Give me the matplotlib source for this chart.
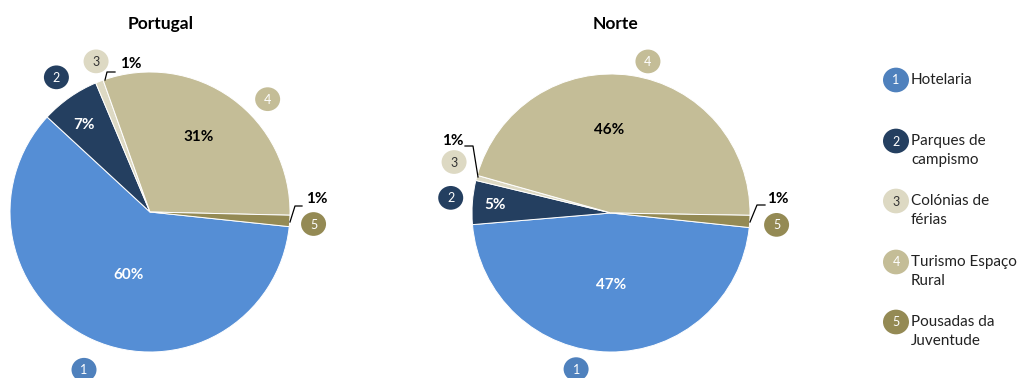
import matplotlib.pyplot as plt
from matplotlib.patches import Ellipse
import numpy as np

plt.rcParams['font.family'] = ['Lato', 'DejaVu Sans']

# Dados (% de camas por tipo de alojamento)
categorias = ['Hotelaria', 'Parques de\ncampismo', 'Colónias de\nférias',
              'Turismo Espaço\nRural', 'Pousadas da\nJuventude']
numeros = ['1', '2', '3', '4', '5']
portugal = [60.2, 6.8, 0.9, 30.8, 1.3]
norte = [47.0, 5.1, 0.6, 45.9, 1.4]

cores = ['#558ED5', '#243F60', '#DDD9C3', '#C4BD97', '#948A54']
cores_badge = ['#4F81BD', '#243F60', '#DDD9C3', '#C4BD97', '#948A54']
cor_num = ['white', 'white', '#333333', 'white', 'white']
cor_pct = ['white', 'white', 'black', 'black', 'black']

W, H = 1025, 378
fig = plt.figure(figsize=(W / 100, H / 100), dpi=100)
ax = fig.add_axes([0, 0, 1, 1])


def badge(x, y, txt, fc, tc, r=12.5):
    ax.add_patch(Ellipse((x, y), 2 * r, 2 * r * 0.95, facecolor=fc, edgecolor='none', zorder=5))
    ax.text(x, y - 0.5, txt, ha='center', va='center', fontsize=9, color=tc, zorder=6)


def polar(c, ang, dist):
    a = np.radians(ang)
    return c[0] + dist * np.cos(a), c[1] + dist * np.sin(a)


def desenha_pie(valores, centro, raio, titulo, tx, badges, pcts, chamadas):
    ax.pie(valores, colors=cores, startangle=-6, counterclock=False,
           center=centro, radius=raio, frame=True,
           wedgeprops=dict(edgecolor='white', linewidth=0.7))
    ax.text(tx, H - 24, titulo, ha='center', va='center', fontsize=12.5, fontweight='bold')
    # números dos sectores
    for i, (ang, d) in enumerate(badges):
        x, y = polar(centro, ang, d)
        badge(x, y, numeros[i], cores_badge[i], cor_num[i])
    # percentagens dentro dos sectores
    for i, pos in pcts.items():
        x, y = polar(centro, *pos)
        ax.text(x, y, f'{round(valores[i]):.0f}%', ha='center', va='center',
                fontsize=11, fontweight='bold', color=cor_pct[i])
    # percentagens pequenas com linha de chamada
    for i, (linha, txt_xy) in chamadas.items():
        xs = [p[0] for p in linha]
        ys = [H - p[1] for p in linha]
        ax.plot(xs, ys, color='black', linewidth=0.9)
        ax.text(txt_xy[0], H - txt_xy[1], f'{round(valores[i]):.0f}%', ha='center', va='center',
                fontsize=11, fontweight='bold', color='black')


desenha_pie(portugal, (150, H - 212), 140, 'Portugal', 161,
            badges=[(-112.7, 171), (124.8, 164), (109.7, 160), (43.8, 163), (-4.2, 164)],
            pcts={0: (-109, 67), 1: (127, 109), 3: (57, 90)},
            chamadas={2: ([(105, 80), (107, 72), (115, 72)], (131, 64)),
                      4: ([(290, 222), (295, 206), (302, 206)], (317, 199))})

desenha_pie(norte, (611, H - 213), 139, 'Norte', 616,
            badges=[(-102.6, 160), (174.6, 161), (162, 165), (76.3, 156), (-4.1, 166)],
            pcts={0: (-90, 72), 1: (176, 116), 3: (91, 83)},
            chamadas={2: ([(465, 146), (473, 146), (478, 177)], (453, 141)),
                      4: ([(750, 222), (757, 205), (765, 205)], (778, 199))})

# legenda
leg_y = [80, 141, 201, 262, 322]
for i, cat in enumerate(categorias):
    badge(896, H - leg_y[i], numeros[i], cores_badge[i], cor_num[i], r=13)
    ax.text(911, H - leg_y[i] + 7, cat, ha='left', va='top', fontsize=11,
            linespacing=1.45, color='#222222')

ax.set_xlim(0, W)
ax.set_ylim(0, H)
ax.set_aspect('equal')
ax.axis('off')

plt.savefig('out.png', dpi=100)
